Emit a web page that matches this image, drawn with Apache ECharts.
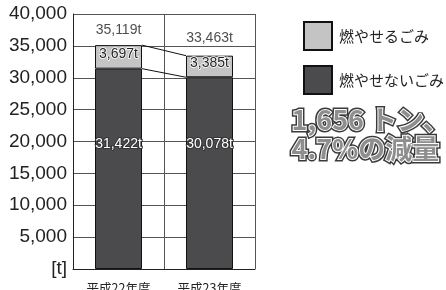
<!DOCTYPE html>
<html>
<head>
<meta charset="utf-8">
<script src="https://cdn.jsdelivr.net/npm/echarts@6/dist/echarts.min.js"></script>
<style>
html, body { margin: 0; padding: 0; background: #fff; }
#chart { width: 446px; height: 290px; }
</style>
</head>
<body>
<div id="chart"></div>
<script>
// data
var years = ['平成22年度', '平成23年度'];
var burnable = [3697, 3385];
var nonBurnable = [31422, 30078];
var totals = [35119, 33463];

var BAR_W = 47;
var FONT = '"Liberation Sans", Arial, sans-serif';
var JP = '"Noto Sans CJK JP", sans-serif';

function fmt(v) {
    return String(v).replace(/\B(?=(\d{3})+(?!\d))/g, ',');
}

var el = document.getElementById('chart');
var myChart = echarts.init(el);

// small per-bar label tweaks
var darkOffset = [-25, -29];
var totalDist = [8, 11];

function outlined(txt, top) {
    var font = '600 27px ' + JP;
    return {
        type: 'group', left: 289, top: top, silent: true,
        children: [
            { type: 'text', style: { text: txt, font: font, fill: '#3a3a3a', stroke: '#3a3a3a', lineWidth: 5, lineJoin: 'round' } },
            { type: 'text', style: { text: txt, font: font, fill: '#8e8e8e', stroke: '#fff', lineWidth: 2, lineJoin: 'round' } }
        ]
    };
}

var option = {
    animation: false,
    grid: { left: 73, right: 191, top: 14, bottom: 21, outerBoundsMode: 'none' },
    legend: {
        orient: 'vertical',
        left: 303,
        top: 21,
        padding: 0,
        icon: 'rect',
        itemWidth: 28,
        itemHeight: 28,
        itemGap: 14,
        data: ['燃やせるごみ', '燃やせないごみ'],
        textStyle: { fontFamily: JP, fontSize: 15, color: '#222', padding: [0, 0, 0, 2] }
    },
    xAxis: {
        type: 'category',
        data: years,
        axisLine: { lineStyle: { color: '#222', width: 1 } },
        axisTick: { length: 10, lineStyle: { color: '#222' } },
        splitLine: { show: true, lineStyle: { color: '#555', width: 1 } },
        axisLabel: { margin: 13, fontFamily: JP, fontSize: 12.5, color: '#222' }
    },
    yAxis: {
        type: 'value',
        min: 0,
        max: 40000,
        interval: 5000,
        axisLine: { show: true, lineStyle: { color: '#222', width: 1 } },
        axisTick: { show: false },
        splitLine: { lineStyle: { color: '#555', width: 1 } },
        axisLabel: {
            margin: 6,
            fontFamily: FONT,
            fontSize: 19,
            color: '#222',
            formatter: function (v) { return v === 0 ? '[t]' : fmt(v); }
        }
    },
    graphic: [
        outlined('1,656 トン、', 104),
        outlined('4.7%の減量', 133)
    ],
    series: [
        {
            name: '燃やせないごみ',
            type: 'bar',
            stack: 'waste',
            barWidth: BAR_W,
            itemStyle: { color: '#4b4b4d', borderColor: '#111', borderWidth: 1 },
            label: {
                show: true,
                position: 'inside',
                fontFamily: FONT,
                fontSize: 14,
                color: '#fff',
                textBorderColor: '#333',
                textBorderWidth: 2,
                formatter: function (p) { return fmt(p.value) + 't'; }
            },
            data: nonBurnable.map(function (v, i) {
                return { value: v, label: { offset: [0, darkOffset[i]] } };
            })
        },
        {
            name: '燃やせるごみ',
            type: 'bar',
            stack: 'waste',
            barWidth: BAR_W,
            itemStyle: { color: '#c4c4c4', borderColor: '#111', borderWidth: 1 },
            label: {
                show: true,
                position: 'inside',
                offset: [0, -3],
                fontFamily: FONT,
                fontSize: 14,
                color: '#222',
                textBorderColor: '#fff',
                textBorderWidth: 1.5,
                formatter: function (p) { return fmt(p.value) + 't'; }
            },
            data: burnable
        },
        {
            name: 'total',
            type: 'scatter',
            symbolSize: 0,
            silent: true,
            label: {
                show: true,
                position: 'top',
                fontFamily: FONT,
                fontSize: 14,
                color: '#222',
                formatter: function (p) { return fmt(p.value[1]) + 't'; }
            },
            data: totals.map(function (v, i) {
                return { value: [i, v], label: { distance: totalDist[i] } };
            })
        },
        {
            name: 'links',
            type: 'custom',
            silent: true,
            encode: { x: 0, y: 1 },
            renderItem: function (params, api) {
                var a = api.coord([api.value(0), api.value(1)]);
                var b = api.coord([api.value(0) + 1, api.value(2)]);
                return {
                    type: 'line',
                    shape: { x1: a[0] + BAR_W / 2, y1: a[1], x2: b[0] - BAR_W / 2, y2: b[1] },
                    style: { stroke: '#111', lineWidth: 1 }
                };
            },
            data: [
                [0, totals[0], totals[1]],
                [0, nonBurnable[0], nonBurnable[1]]
            ]
        }
    ]
};

myChart.setOption(option);
</script>
</body>
</html>
